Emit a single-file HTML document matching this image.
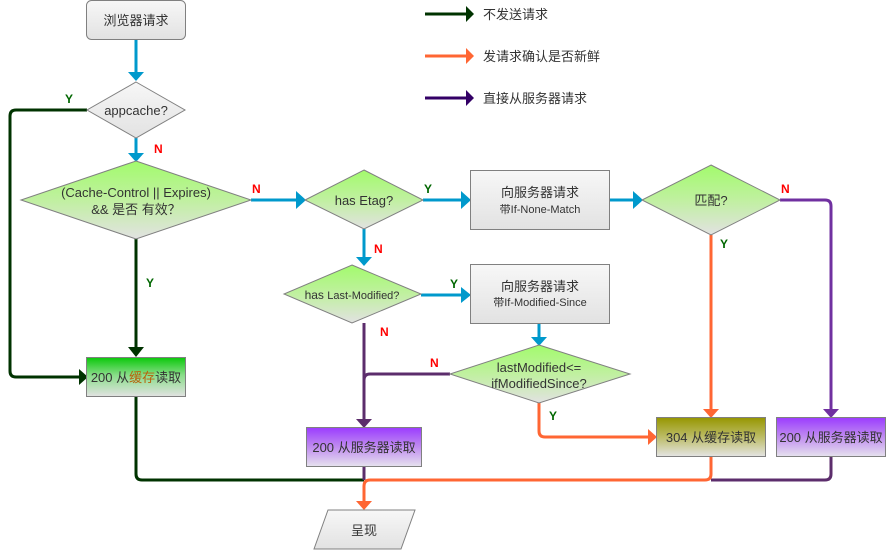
<!DOCTYPE html>
<html><head><meta charset="utf-8"><style>
html,body{margin:0;padding:0;background:#fff;}
svg{display:block;font-family:"Liberation Sans","Noto Sans CJK SC",sans-serif;}
</style></head><body>
<svg width="886" height="550" viewBox="0 0 886 550" xmlns="http://www.w3.org/2000/svg">
<defs>
<linearGradient id="gGray" x1="0" y1="0" x2="0" y2="1"><stop offset="0" stop-color="#f7f7f7"/><stop offset="1" stop-color="#e2e2e2"/></linearGradient>
<linearGradient id="gDia" x1="0" y1="0" x2="0" y2="1"><stop offset="0" stop-color="#a2fb6c"/><stop offset="0.5" stop-color="#c0f0a0"/><stop offset="1" stop-color="#e2e2e2"/></linearGradient>
<linearGradient id="gGreen" x1="0" y1="0" x2="0" y2="1"><stop offset="0" stop-color="#0ac80a"/><stop offset="0.45" stop-color="#88dd88"/><stop offset="1" stop-color="#e2e2e2"/></linearGradient>
<linearGradient id="gOlive" x1="0" y1="0" x2="0" y2="1"><stop offset="0" stop-color="#969600"/><stop offset="0.5" stop-color="#bcbc66"/><stop offset="1" stop-color="#e4e4e4"/></linearGradient>
<linearGradient id="gPurple" x1="0" y1="0" x2="0" y2="1"><stop offset="0" stop-color="#9b3cff"/><stop offset="0.5" stop-color="#c08cf0"/><stop offset="1" stop-color="#e6e2ee"/></linearGradient>
</defs>

<!-- connectors -->
<g fill="none" stroke-width="3" stroke-linejoin="round">
<!-- blue -->
<g stroke="#0099cc">
<path d="M136 39V72"/><path d="M136 138V153"/><path d="M251 200H296"/><path d="M423 200H461"/><path d="M609 200H633"/>
<path d="M364 229V257"/><path d="M421 295H461"/><path d="M539 323V337"/>
</g>
<!-- dark green -->
<g stroke="#003300">
<path d="M87 110H16Q10 110 10 116V371Q10 377 16 377H79"/>
<path d="M136 239V347"/>
<path d="M136 396V474Q136 480 142 480H364"/>
</g>
<!-- purple -->
<g stroke="#5c2d6c">
<path d="M364 323V419"/><path d="M450 374H370Q364 374 364 380"/>
<path d="M364 466V480"/>
<path d="M831 456V474Q831 480 825 480H711"/>
</g>
<path stroke="#7030a0" d="M780 200H825Q831 200 831 206V409"/>
<!-- orange -->
<g stroke="#ff6633">
<path d="M711 235V409"/>
<path d="M539 403V431Q539 437 545 437H648"/>
<path d="M711 456V474Q711 480 705 480H370Q364 480 364 486V501"/>
</g>
<!-- legend -->
<path stroke="#003300" d="M425 14H466"/><path stroke="#ff6633" d="M425 56H466"/><path stroke="#330066" d="M425 98H466"/>
</g>

<!-- arrowheads -->
<g fill="#0099cc">
<path d="M128 72H144L136 81Z"/><path d="M128 153H144L136 162Z"/><path d="M296 191V209L306 200Z"/>
<path d="M461 191V209L471 200Z"/><path d="M633 191V209L643 200Z"/><path d="M356 257H372L364 266Z"/>
<path d="M461 287V303L471 295Z"/><path d="M531 337H547L539 346Z"/>
</g>
<g fill="#003300"><path d="M79 369V385L88 377Z"/><path d="M128 347H144L136 357Z"/><path d="M466 6V22L474 14Z"/></g>
<g fill="#ff6633"><path d="M703 409H719L711 418Z"/><path d="M648 429V445L657 437Z"/><path d="M356 501H372L364 510Z"/><path d="M466 48V64L474 56Z"/></g>
<g fill="#5c2d6c"><path d="M356 419H372L364 428Z"/></g>
<g fill="#7030a0"><path d="M823 409H839L831 418Z"/></g>
<g fill="#330066"><path d="M466 90V106L474 98Z"/></g>

<!-- nodes -->
<g stroke="#808080" stroke-width="1">
<rect x="86.5" y="0.5" width="99" height="39" rx="5" fill="url(#gGray)"/>
<path d="M136 82L185 110L136 138L87 110Z" fill="url(#gGray)"/>
<path d="M136 161L251 200L136 239L21 200Z" fill="url(#gDia)"/>
<path d="M364 170L423 200L364 229L305 200Z" fill="url(#gDia)"/>
<rect x="470.5" y="170.5" width="139" height="59" fill="url(#gGray)"/>
<path d="M711 165L780 200L711 235L642 200Z" fill="url(#gDia)"/>
<path d="M352 265L421 294L352 323L284 294Z" fill="url(#gDia)" transform="translate(0,0)"/>
<rect x="470.5" y="264.5" width="139" height="59" fill="url(#gGray)"/>
<path d="M539 345L630 374L539 403L450 374Z" fill="url(#gDia)"/>
<rect x="86.5" y="357.5" width="99" height="39" fill="url(#gGreen)"/>
<rect x="306.5" y="427.5" width="115" height="39" fill="url(#gPurple)"/>
<rect x="656.5" y="417.5" width="109" height="39" fill="url(#gOlive)"/>
<rect x="776.5" y="417.5" width="109" height="39" fill="url(#gPurple)"/>
<path d="M328 510H415L401 549H314Z" fill="url(#gGray)"/>
</g>

<!-- node text -->
<g fill="#333" font-size="13" text-anchor="middle">
<text x="136" y="25">浏览器请求</text>
<text x="136" y="115">appcache?</text>
<text x="136" y="197">(Cache-Control || Expires)</text>
<text x="136" y="214">&amp;&amp; 是否 有效？</text>
<text x="364" y="205">has Etag?</text>
<text x="540" y="197">向服务器请求</text>
<text x="540" y="213" font-size="11">带If-None-Match</text>
<text x="711" y="205">匹配?</text>
<text x="352" y="299" font-size="12">has <tspan font-size="11">Last-Modified?</tspan></text>
<text x="540" y="291">向服务器请求</text>
<text x="540" y="306" font-size="11">带If-Modified-Since</text>
<text x="539" y="372">lastModified&lt;=</text>
<text x="539" y="388">ifModifiedSince?</text>
<text x="136" y="382">200 从<tspan fill="#b8610a">缓存</tspan>读取</text>
<text x="364" y="452">200 从服务器读取</text>
<text x="711" y="442">304 从缓存读取</text>
<text x="831" y="442">200 从服务器读取</text>
<text x="364" y="535">呈现</text>
</g>
<g fill="#333" font-size="13">
<text x="483" y="19">不发送请求</text>
<text x="483" y="61">发请求确认是否新鲜</text>
<text x="483" y="103">直接从服务器请求</text>
</g>

<!-- Y/N labels -->
<g font-size="12" font-weight="bold">
<text x="65" y="103" fill="#006600">Y</text>
<text x="154" y="153" fill="#ff0000">N</text>
<text x="252" y="193" fill="#ff0000">N</text>
<text x="424" y="193" fill="#006600">Y</text>
<text x="374" y="253" fill="#ff0000">N</text>
<text x="146" y="287" fill="#006600">Y</text>
<text x="450" y="288" fill="#006600">Y</text>
<text x="380" y="336" fill="#ff0000">N</text>
<text x="430" y="367" fill="#ff0000">N</text>
<text x="549" y="420" fill="#006600">Y</text>
<text x="720" y="248" fill="#006600">Y</text>
<text x="781" y="193" fill="#ff0000">N</text>
</g>
</svg>
</body></html>
